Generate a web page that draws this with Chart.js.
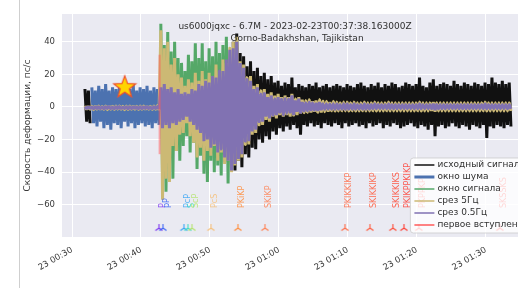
<!DOCTYPE html>
<html>
<head>
<meta charset="utf-8">
<script src="https://cdn.jsdelivr.net/npm/chart.js@4.4.1/dist/chart.umd.min.js"></script>
<style>
  html, body { margin: 0; padding: 0; background: #fff; overflow: hidden; }
  #wrap { position: relative; width: 518px; height: 288px; overflow: hidden; }
  #edge { position: absolute; left: 19px; top: 0; width: 1px; height: 288px; background: #cfcfcf; }
  canvas { position: absolute; left: 0; top: 0; }
</style>
</head>
<body>
<div id="wrap">
  <div id="edge"></div>
  <canvas id="chart" width="560" height="288"></canvas>
</div>
<script>
// time axis in minutes after 00:00 on the 23rd, one envelope bin (max / min) every 30 s
const BIN = 0.5;
const rawStart = 32.0;
const noiseStart = 33.0;
const signalStart = 43.0;

const xTicks = [30, 40, 50, 60, 70, 80, 90];
const yTicks = [-60, -40, -20, 0, 20, 40];

// исходный сигнал (null where it is hidden under the windows)
const rawHigh = [
  11, 10,
  null, null, null, null, null, null, null, null, null, null, null, null, null, null, null, null, null, null, null, null,
  null, null, null, null, null, null, null, null, null, null, null, null, null, null, null, null, null, null, null, null, null,
  40, 45, 33, 31, 25, 28, 22, 24, 19, 21, 17, 19, 15, 16, 13, 15, 14, 18, 12, 14,
  13, 12, 14, 13, 15, 12, 13, 14, 12, 13,
  14, 13, 12, 14, 13, 12, 14, 15, 13, 12,
  14, 13, 15, 12, 14, 13, 15, 14, 12, 13,
  15, 14, 13, 14, 18, 13, 12, 15, 17, 13,
  14, 15, 14, 13, 16, 14, 13, 15, 14, 13,
  15, 14, 13, 15, 14, 18, 15, 14, 16, 14,
  15
];
const rawLow = [
  -9, -10,
  null, null, null, null, null, null, null, null, null, null, null, null, null, null, null, null, null, null, null, null,
  null, null, null, null, null, null, null, null, null, null, null, null, null, null, null, null, null, null, null, null, null,
  -39, -33, -37, -29, -31, -25, -26, -20, -22, -18, -20, -15, -17, -13, -15, -12, -14, -11, -13, -17,
  -11, -12, -10, -12, -11, -13, -10, -11, -12, -10,
  -11, -13, -10, -12, -11, -10, -12, -11, -13, -10,
  -12, -11, -10, -13, -11, -12, -10, -11, -13, -12,
  -11, -10, -12, -13, -11, -12, -14, -11, -18, -12,
  -11, -13, -12, -10, -12, -13, -11, -12, -14, -11,
  -12, -13, -11, -19, -12, -13, -11, -12, -13, -11,
  -12
];

// окно шума
const noiseHigh = [12, 10, 13, 11, 14, 10, 12, 11, 13, 10, 12, 11, 14, 10, 12, 11, 13, 10, 12, 11];
const noiseLow = [-10, -12, -9, -13, -11, -14, -10, -11, -13, -9, -12, -10, -13, -11, -10, -12, -11, -13, -10, -11];

// окно сигнала
const signalHigh = [51, 38, 46, 34, 40, 30, 27, 22, 32, 28, 39, 30, 39, 28, 36, 31, 40, 33, 38, 43, 34];
const signalLow = [-44, -52, -38, -44, -27, -33, -24, -18, -28, -22, -38, -30, -41, -46, -33, -40, -36, -42, -34, -47, -39];

// срез 5Гц
const lp5High = [
  0.6, 0.5, 0.4, 0.6, 0.5, 0.3, 0.5, 0.6, 0.4, 0.5, 0.6, 0.4, 0.5, 0.5, 0.6, 0.4, 0.5, 0.6, 0.5, 0.4, 0.5, 0.8,
  47, 36, 40, 26, 30, 20, 18, 13, 17, 15, 21, 16, 22, 17, 21, 19, 26, 22, 29, 27, 36,
  40, 43, 28, 26, 18, 19, 13, 14, 10, 11, 8, 9, 7, 8, 6, 7, 6, 8, 5, 6,
  4.5, 4, 4.5, 3.5, 4, 4.5, 3.5, 3.5, 3, 3.5,
  3, 2.5, 3, 3, 2.5, 3, 2.5, 2.5, 3, 2.5,
  2.5, 3, 2.5, 2.5, 2.5, 3, 2.5, 2.5, 2.5, 2.5,
  2.5, 2.5, 2.5, 2.5, 3, 2.5, 2.5, 2.5, 3, 2.5,
  2.5, 2.5, 2.5, 2.5, 2.5, 2.5, 2.5, 2.5, 2.5, 2.5,
  2.5, 2.5, 2.5, 3, 2.5, 2.5, 2.5, 2.5, 2.5, 2.5,
  2.5
];
const lp5Low = [
  -1.6, -1.5, -1.7, -1.4, -1.6, -1.5, -1.7, -1.5, -1.6, -1.4, -1.5, -1.7, -1.6, -1.5, -1.4, -1.6, -1.5, -1.7, -1.5, -1.6, -1.5, -1.8,
  -57, -44, -46, -24, -27, -17, -16, -10, -18, -22, -31, -25, -33, -27, -30, -24, -33, -28, -35, -33, -40,
  -36, -33, -31, -23, -23, -17, -16, -11, -11, -8, -9, -6, -7, -5, -6, -5, -6, -5, -5, -4,
  -3.5, -3.5, -3.5, -3, -3.5, -3.5, -3, -3, -2.5, -2.5,
  -2.5, -2.5, -2.5, -2.5, -2.5, -2.5, -2.5, -2.5, -2.5, -2.5,
  -2.5, -2.5, -2.5, -2.5, -2.5, -2.5, -2.5, -2.5, -2.5, -2.5,
  -2.5, -2.5, -2.5, -2.5, -2.5, -2.5, -2.5, -2.5, -3, -2.5,
  -2.5, -2.5, -2.5, -2.5, -2.5, -2.5, -2.5, -2.5, -2.5, -2.5,
  -2.5, -2.5, -2.5, -2.5, -2.5, -2.5, -2.5, -2.5, -2.5, -2.5,
  -2.5
];

// срез 0.5Гц
const lp05High = [
  0.2, 0.1, 0, 0.2, 0.1, 0, 0.1, 0.2, 0, 0.1, 0.2, 0, 0.1, 0.1, 0.2, 0, 0.1, 0.2, 0.1, 0, 0.1, 0.3,
  12, 14, 11, 12, 9, 11, 8, 9, 8, 11, 10, 14, 13, 16, 15, 19, 18, 22, 22, 29, 35,
  36, 40, 27, 24, 17, 16, 11, 12, 8, 9, 6, 7, 5, 6, 5, 5, 5, 7, 4, 5,
  3, 2.5, 3, 2.5, 2.5, 3, 2, 2, 2, 2,
  2, 1.5, 2, 2, 1.5, 2, 1.5, 1.5, 2, 1.5,
  1.5, 2, 1.5, 1.5, 1.5, 2, 1.5, 1.5, 1.5, 1.5,
  1.5, 1.5, 1.5, 1.5, 2, 1.5, 1.5, 1.5, 2, 1.5,
  1.5, 1.5, 1.5, 1.5, 1.5, 1.5, 1.5, 1.5, 1.5, 1.5,
  1.5, 1.5, 1.5, 2, 1.5, 1.5, 1.5, 1.5, 1.5, 1.5,
  1.5
];
const lp05Low = [
  -1.1, -1.0, -1.2, -1.0, -1.1, -1.2, -1.0, -1.1, -1.2, -1.0, -1.1, -1.0, -1.2, -1.1, -1.0, -1.2, -1.1, -1.0, -1.1, -1.2, -1.0, -1.3,
  -13, -11, -13, -10, -11, -9, -8, -6, -9, -11, -14, -16, -21, -20, -25, -23, -28, -26, -31, -33, -39,
  -35, -32, -29, -21, -21, -15, -14, -9, -9, -6, -7, -5, -5, -4, -5, -4, -4, -5, -3, -4,
  -2.5, -2.5, -2.5, -2, -2.5, -2, -1.5, -1.5, -1.5, -1.5,
  -1.5, -1.5, -1.5, -1.5, -1.5, -1.5, -1.5, -1.5, -1.5, -1.5,
  -1.2, -1.2, -1.2, -1.2, -1.2, -1.2, -1.2, -1.2, -1.2, -1.2,
  -1.2, -1.2, -1.2, -1.2, -1.2, -1.2, -1.2, -1.2, -2, -1.2,
  -1.2, -1.2, -1.2, -1.2, -1.2, -1.2, -1.2, -1.2, -1.2, -1.2,
  -1.2, -1.2, -1.2, -1.2, -1.2, -1.2, -1.2, -1.2, -1.2, -1.2,
  -1.2
];

// первое вступление
const firstArrivalTime = 42.7;
const firstArrivalSpan = [-29, 32];

// event origin (star)
const originTime = 37.64;
const originLevel = 12.3;

// theoretical phase arrivals
const phaseNames = ['P', 'pP', 'PcP', 'S', 'ScP', 'PcS', 'PKiKP', 'SKiKP', 'PKIKKIKP', 'SKIKKIKP', 'SKIKKIKS', 'PKIKPPKIKP', 'PKPPKP', 'SKSSKS'];
const phaseTimes = [42.61, 43.19, 46.23, 46.81, 47.39, 50.14, 54.06, 57.97, 69.57, 73.19, 76.52, 78.12, 80.29, 92.03];
const phaseColors = ['#7b35f0', '#3a63f5', '#36a4f4', '#3fdcc4', '#b4e46c', '#f6bf78', '#ff8c3a', '#ff7f50', '#ff6a45', '#ff5a3c', '#ff4a35', '#ff3a30', '#ff2a25', '#ff1a1a'];
const markerLevel = -74;
const labelLevel = -62;

const legendLabels = ['исходный сигнал', 'окно шума', 'окно сигнала', 'срез 5Гц', 'срез 0.5Гц', 'первое вступление'];
const legendColors = ['#111111', '#4c72b0', '#55a868', '#ccb974', '#8172b2', '#ff5a5a'];
const legendWidths = [1.5, 3, 1.5, 1.5, 1.5, 1.5];

const titleLines = ['us6000jqxc - 6.7M - 2023-02-23T00:37:38.163000Z', 'Gorno-Badakhshan, Tajikistan'];
const yTitle = 'Скорость деформации, пс/с';

const FONT = '"DejaVu Sans", sans-serif';

// each bin: its maximum a little before the bin centre, its minimum a little after
const zigzag = (start, hi, lo) => hi.slice(0, lo.length).flatMap((h, i) => {
  const c = start + i * BIN;
  return [{ x: c - BIN / 4, y: h }, { x: c + BIN / 4, y: lo[i] }];
});

function triMarker(color) {
  const c = document.createElement('canvas');
  c.width = 9; c.height = 9;
  const g = c.getContext('2d');
  g.strokeStyle = color;
  g.lineWidth = 1.1;
  g.beginPath();
  g.moveTo(4.5, 5); g.lineTo(4.5, 1);
  g.moveTo(4.5, 5); g.lineTo(1, 7.5);
  g.moveTo(4.5, 5); g.lineTo(8, 7.5);
  g.stroke();
  return c;
}

function starMarker() {
  const c = document.createElement('canvas');
  c.width = 26; c.height = 26;
  const g = c.getContext('2d');
  g.beginPath();
  for (let i = 0; i < 10; i++) {
    const r = i % 2 ? 4.8 : 11.5;
    const a = -Math.PI / 2 + i * Math.PI / 5;
    const px = 13 + r * Math.cos(a), py = 13.5 + r * Math.sin(a);
    i ? g.lineTo(px, py) : g.moveTo(px, py);
  }
  g.closePath();
  g.fillStyle = '#ffd400';
  g.fill();
  g.strokeStyle = '#f0522a';
  g.lineWidth = 1.2;
  g.stroke();
  return c;
}

const overlay = {
  id: 'overlay',
  beforeDraw(chart) {
    const { ctx, chartArea: a } = chart;
    ctx.save();
    ctx.fillStyle = '#eaeaf2';
    ctx.fillRect(a.left, a.top, a.right - a.left, a.bottom - a.top);
    ctx.restore();
  },
  afterDatasetsDraw(chart) {
    const { ctx, chartArea: a, scales: { x, y } } = chart;
    ctx.save();

    // phase names, rotated
    ctx.font = '8px ' + FONT;
    ctx.textAlign = 'left';
    ctx.textBaseline = 'top';
    phaseNames.forEach((name, i) => {
      ctx.save();
      ctx.translate(x.getPixelForValue(phaseTimes[i]), y.getPixelForValue(labelLevel));
      ctx.rotate(-Math.PI / 2);
      ctx.globalAlpha = 0.85;
      ctx.fillStyle = phaseColors[i];
      ctx.fillText(name, 0, 0);
      ctx.restore();
    });

    // title inside the axes
    ctx.font = '9px ' + FONT;
    ctx.fillStyle = '#303030';
    ctx.textAlign = 'center';
    ctx.textBaseline = 'middle';
    ctx.fillText(titleLines[0], a.left + 233, 27);
    ctx.fillText(titleLines[1], a.left + 235, 39);

    // legend, lower right
    ctx.font = '9px ' + FONT;
    const textW = Math.max(...legendLabels.map(t => ctx.measureText(t).width));
    const w = 4 + 20 + 3 + textW + 4;
    const h = 75;
    const right = a.right - 5;
    const bottom = a.bottom - 4;
    const left = right - w;
    const top = bottom - h;
    ctx.beginPath();
    ctx.roundRect(left, top, w, h, 3);
    ctx.fillStyle = 'rgba(255,255,255,0.8)';
    ctx.fill();
    ctx.strokeStyle = 'rgba(204,204,204,0.8)';
    ctx.lineWidth = 1;
    ctx.stroke();
    ctx.textAlign = 'left';
    legendLabels.forEach((label, i) => {
      const cy = top + 7 + 12 * i;
      ctx.beginPath();
      ctx.moveTo(left + 4, cy);
      ctx.lineTo(left + 24, cy);
      ctx.strokeStyle = legendColors[i];
      ctx.lineWidth = legendWidths[i];
      ctx.stroke();
      ctx.fillStyle = '#303030';
      ctx.fillText(label, left + 27, cy);
    });
    ctx.restore();
  }
};

// wide strokes so the zigzag reads as a filled band; bevel joins keep the tips sharp
const trace = (label, data, color, order) => ({
  label, data, borderColor: color, borderWidth: 3, borderJoinStyle: 'bevel', pointRadius: 0,
  tension: 0.0001, spanGaps: false, order
});

new Chart(document.getElementById('chart'), {
  type: 'line',
  data: {
    datasets: [
      trace(legendLabels[0], zigzag(rawStart, rawHigh, rawLow), '#111111', 6),
      trace(legendLabels[1], zigzag(noiseStart, noiseHigh, noiseLow), '#4c72b0', 5),
      trace(legendLabels[2], zigzag(signalStart, signalHigh, signalLow), '#55a868', 4),
      trace(legendLabels[3], zigzag(rawStart, lp5High, lp5Low), '#ccb974', 3),
      trace(legendLabels[4], zigzag(rawStart, lp05High, lp05Low), '#8172b2', 2),
      {
        label: legendLabels[5], order: 1,
        data: firstArrivalSpan.map(v => ({ x: firstArrivalTime, y: v })),
        borderColor: 'rgba(255,90,90,0.5)', borderWidth: 2, pointRadius: 0
      },
      {
        label: 'phases', order: 0, showLine: false,
        data: phaseTimes.map(t => ({ x: t, y: markerLevel })),
        pointStyle: phaseColors.map(triMarker), pointRadius: 4
      },
      {
        label: 'origin', order: 0, showLine: false,
        data: [{ x: originTime, y: originLevel }],
        pointStyle: starMarker(), pointRadius: 12
      }
    ]
  },
  options: {
    responsive: false,
    animation: false,
    layout: { padding: { left: 0, right: 22, top: 14, bottom: 0 } },
    plugins: { legend: { display: false }, tooltip: { enabled: false } },
    scales: {
      x: {
        type: 'linear', min: 28.55, max: 97.55, offset: false,
        grid: { color: '#ffffff', lineWidth: 1, drawTicks: false },
        border: { display: false },
        ticks: {
          autoSkip: false, minRotation: 30, maxRotation: 30, padding: 8,
          color: '#3a3a3a', font: { family: FONT, size: 8.5 },
          callback: v => '23 ' + String(Math.floor(v / 60)).padStart(2, '0') + ':' + String(v % 60).padStart(2, '0')
        },
        afterBuildTicks: s => { s.ticks = xTicks.map(v => ({ value: v })); },
        afterFit: s => { s.height = 51; }
      },
      y: {
        min: -79.8, max: 57,
        grid: { color: '#ffffff', lineWidth: 1, drawTicks: false },
        border: { display: false },
        ticks: {
          padding: 7, color: '#3a3a3a', font: { family: FONT, size: 8.5 },
          callback: v => (v < 0 ? '\u2212' : '') + Math.abs(v)
        },
        title: {
          display: true, text: yTitle, color: '#3a3a3a',
          font: { family: FONT, size: 9 }, padding: { top: 22, bottom: 0 }
        },
        afterBuildTicks: s => { s.ticks = yTicks.map(v => ({ value: v })); },
        afterFit: s => { s.width = 62; }
      }
    }
  },
  plugins: [overlay]
});
</script>
</body>
</html>
